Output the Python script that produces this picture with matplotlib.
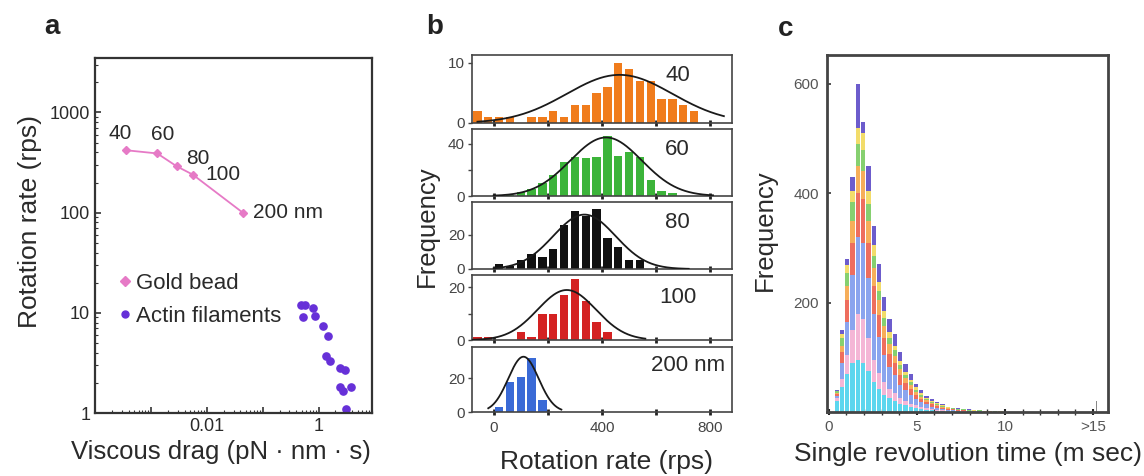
import numpy as np
import matplotlib
matplotlib.use("Agg")
import matplotlib.pyplot as plt
from matplotlib.ticker import LogLocator, NullFormatter, FixedLocator, FixedFormatter

plt.rcParams['font.family'] = ['Liberation Sans', 'DejaVu Sans']

# ---------------- Panel a data ----------------
gold_drag = [3.6e-4, 1.3e-3, 2.9e-3, 5.6e-3, 0.044]
gold_rate = [420, 390, 290, 240, 100]
gold_labels = ['40', '60', '80', '100', '200 nm']
actin_drag = [0.49, 0.56, 0.52, 0.79, 0.85, 1.19, 1.47, 1.37, 1.57, 2.37, 2.91, 2.37, 2.71, 3.83, 3.1]
actin_rate = [12.0, 12.0, 9.0, 11.2, 9.4, 7.4, 5.9, 3.7, 3.3, 2.8, 2.7, 1.8, 1.65, 1.8, 1.1]

# ---------------- Panel b data ----------------
b_labels = ['40', '60', '80', '100', '200 nm']
b_colors = ['#f07c1c', '#3cb43a', '#111111', '#d42222', '#3a6ad6']
b_centers = [
    [-60, -20, 20, 60, 140, 180, 220, 260, 300, 340, 380, 420, 460, 500, 540, 580, 620, 660, 700, 740],
    [60, 100, 140, 180, 220, 260, 300, 340, 380, 420, 460, 500, 540, 580, 620, 660],
    [20, 60, 100, 140, 180, 220, 260, 300, 340, 380, 420, 460, 500, 540],
    [-60, -20, 100, 140, 180, 220, 260, 300, 340, 380, 420],
    [20, 60, 100, 140, 180],
]
b_counts = [
    [2, 1, 1, 1, 1, 1, 2, 1, 3, 3, 5, 6, 10, 9, 7, 7, 4, 4, 3, 2],
    [1, 3, 5, 10, 16, 26, 30, 29, 30, 46, 31, 34, 30, 12, 4, 2],
    [3, 2, 5, 9, 7, 12, 26, 34, 31, 35, 18, 13, 5, 5],
    [1, 1, 3, 1, 10, 10, 17, 23, 15, 7, 3],
    [3, 18, 21, 32, 7],
]
b_ylims = [11.3, 51.5, 39.4, 24.7, 38.8]
b_yticks = [[0, 10], [0, 20, 40], [0, 20], [0, 10, 20], [0, 20]]
b_yticklabels = [['0', '10'], ['0', '', '40'], ['0', '20'], ['0', '', '20'], ['0', '20']]
# Gaussian fit parameters (peak height, centre, sigma, drawn range)
fit_peak = [8.0, 45.0, 32.0, 19.0, 33.0]
fit_center = [465, 415, 335, 270, 110]
fit_sigma = [195, 132, 115, 108, 56]
fit_xmin = [-60, 0, 0, -80, -20]
fit_xmax = [850, 810, 720, 560, 250]

# ---------------- Panel c data ----------------
c_bins = [0.45, 0.75, 1.05, 1.35, 1.65, 1.95, 2.25, 2.55, 2.85, 3.15, 3.45, 3.75, 4.05, 4.35, 4.65, 4.95,
          5.25, 5.55, 5.85, 6.15, 6.45, 6.75, 7.05, 7.35, 7.65, 7.95, 8.25, 8.55, 8.85, 9.15, 9.45, 9.75]
c_cyan = [20, 45, 70, 90, 95, 90, 75, 55, 42, 32, 25, 20, 15, 12, 9, 7, 5, 4, 3, 2, 2, 1, 1, 1, 0, 0, 0, 0, 0, 0, 0, 0]
c_pink = [5, 15, 35, 60, 85, 80, 60, 40, 30, 22, 17, 14, 10, 8, 6, 5, 4, 3, 2, 2, 1, 1, 1, 0, 1, 0, 0, 0, 0, 0, 0, 0]
c_lblue = [5, 30, 60, 100, 140, 140, 110, 85, 65, 50, 40, 33, 25, 20, 16, 12, 9, 7, 5, 4, 3, 2, 2, 1, 1, 1, 1, 1, 0, 0, 0, 0]
c_red = [3, 20, 40, 60, 80, 80, 65, 50, 40, 32, 25, 22, 17, 13, 11, 8, 6, 5, 4, 3, 2, 2, 1, 1, 1, 1, 0, 1, 0, 0, 0, 0]
c_orange = [2, 10, 25, 40, 50, 50, 40, 33, 27, 21, 17, 14, 11, 9, 7, 5, 4, 3, 3, 2, 2, 1, 1, 1, 1, 0, 1, 0, 1, 1, 0, 0]
c_green = [3, 15, 25, 35, 40, 40, 30, 22, 18, 15, 12, 10, 8, 6, 5, 4, 3, 2, 2, 2, 1, 1, 1, 1, 1, 1, 0, 1, 0, 0, 1, 0]
c_yellow = [1, 7, 13, 20, 30, 30, 25, 20, 16, 12, 10, 8, 7, 6, 5, 4, 3, 2, 1, 1, 1, 1, 0, 1, 0, 1, 1, 0, 1, 0, 0, 1]
c_purple = [1, 8, 12, 25, 80, 20, 45, 35, 32, 26, 24, 22, 17, 14, 11, 7, 6, 4, 3, 2, 2, 1, 1, 1, 1, 1, 1, 1, 0, 1, 0, 0]
c_series = [c_cyan, c_pink, c_lblue, c_red, c_orange, c_green, c_yellow, c_purple]
c_colors = ['#5cd6ee', '#f4b6d6', '#8aa4ee', '#ee6e5e', '#f6ae5a', '#86d070', '#f2dc6a', '#6c5ccc']
c_over_x = [15.2]
c_over_count = [20]
c_xticks = [0, 5, 10, 15]
c_xticklabels = ['0', '5', '10', '>15']

W, H = 1144, 476
fig = plt.figure(figsize=(W / 100, H / 100), dpi=100)
txt = '#2a2a2a'

def fr(l, t, r, b):
    return [l / W, (H - b) / H, (r - l) / W, (b - t) / H]

# ================= Panel a =================
ax = fig.add_axes(fr(95, 58, 372, 413))
ax.set_xscale('log')
ax.set_yscale('log')
ax.plot(gold_drag, gold_rate, '-', color='#e67ac6', lw=1.3, marker='D', ms=4,
        mfc='#e67ac6', mec='#e67ac6', label='Gold bead')
ax.plot(actin_drag, actin_rate, 'o', color='#6630d8', ms=5.2, mec='#6630d8', label='Actin filaments')
ax.set_xlim(1e-4, 9)
ax.set_ylim(1, 3500)
offsets = [(-4, 12), (4, 14), (15, 6), (22, 0), (7, 0)]
has = ['center', 'center', 'center', 'center', 'left']
for x, y, s, o, ha in zip(gold_drag, gold_rate, gold_labels, offsets, has):
    ax.annotate(s, (x, y), xytext=o, textcoords='offset points', ha=ha, va='center',
                fontsize=15, color=txt)
ax.xaxis.set_major_locator(FixedLocator([1e-4, 1e-3, 1e-2, 1e-1, 1]))
ax.xaxis.set_major_formatter(FixedFormatter(['', '', '0.01', '', '1']))
ax.xaxis.set_minor_locator(LogLocator(base=10, subs=np.arange(2, 10), numticks=20))
ax.xaxis.set_minor_formatter(NullFormatter())
ax.yaxis.set_major_locator(FixedLocator([1, 10, 100, 1000]))
ax.yaxis.set_major_formatter(FixedFormatter(['1', '10', '100', '1000']))
ax.yaxis.set_minor_locator(LogLocator(base=10, subs=np.arange(2, 10), numticks=20))
ax.yaxis.set_minor_formatter(NullFormatter())
ax.tick_params(which='both', direction='in', colors='#333333', labelsize=13, labelcolor=txt)
ax.tick_params(which='major', length=4, width=1.2)
ax.tick_params(which='minor', length=2.5, width=0.8)
for s in ax.spines.values():
    s.set_linewidth(1.6)
    s.set_color('#333333')
ax.set_xlabel('Viscous drag (pN · nm · s)', fontsize=18.5, color=txt, labelpad=4)
ax.xaxis.set_label_coords(0.455, -0.075)
ax.set_ylabel('Rotation rate (rps)', fontsize=19, color=txt, labelpad=4)
ax.yaxis.set_label_coords(-0.19, 0.54)
leg = ax.legend(loc='upper left', bbox_to_anchor=(0.06, 0.42), frameon=False, fontsize=16,
                handlelength=0.4, handletextpad=0.3, labelspacing=0.55, borderaxespad=0,
                labelcolor=txt)
for h in leg.legend_handles:
    h.set_linestyle('')
    h.set_markersize(5)
fig.text(52 / W, 1 - 27 / H, 'a', fontsize=20, fontweight='bold', ha='center', va='center', color='#222222')

# ================= Panel b =================
b_boxes = [(55, 123), (129, 196), (202, 269), (275, 340), (347, 412)]
b_axes = []
for i, (t, b) in enumerate(b_boxes):
    axb = fig.add_axes(fr(472, t, 732, b))
    b_axes.append(axb)
    axb.bar(b_centers[i], b_counts[i], width=31, color=b_colors[i], edgecolor='none', zorder=2)
    xs = np.linspace(fit_xmin[i], fit_xmax[i], 300)
    ys = fit_peak[i] * np.exp(-0.5 * ((xs - fit_center[i]) / fit_sigma[i]) ** 2)
    axb.plot(xs, ys, color='#1a1a1a', lw=1.3, zorder=3)
    axb.set_xlim(-80, 880)
    axb.set_ylim(0, b_ylims[i])
    axb.set_yticks(b_yticks[i])
    axb.set_yticklabels(b_yticklabels[i])
    axb.set_xticks([0, 200, 400, 600, 800])
    if i == 4:
        axb.set_xticklabels(['0', '', '400', '', '800'])
    else:
        axb.set_xticklabels([])
    axb.tick_params(axis='x', direction='inout', length=5, width=2, colors='#222222',
                    labelsize=11, labelcolor='#444444', pad=4)
    axb.tick_params(axis='y', direction='out', length=3, width=1, colors='#444444',
                    labelsize=11, labelcolor='#444444', pad=2)
    for s in axb.spines.values():
        s.set_linewidth(1.2)
        s.set_color('#444444')
    axb.text(0.79 if i < 4 else 0.83, [0.70, 0.69, 0.69, 0.65, 0.72][i], b_labels[i],
             transform=axb.transAxes, fontsize=16, ha='center', va='center', color=txt)
fig.text(427 / W, 1 - 226 / H, 'Frequency', rotation=90, fontsize=18.5, ha='center', va='center', color=txt)
fig.text(606 / W, 1 - 462 / H, 'Rotation rate (rps)', fontsize=19, ha='center', va='center', color=txt)
fig.text(435 / W, 1 - 27 / H, 'b', fontsize=20, fontweight='bold', ha='center', va='center', color='#222222')

# ================= Panel c =================
axc = fig.add_axes(fr(827, 55, 1108, 412))
bottom = np.zeros(len(c_bins))
for ser, col in zip(c_series, c_colors):
    axc.bar(c_bins, ser, width=0.24, bottom=bottom, color=col, edgecolor='none', zorder=2)
    bottom = bottom + np.array(ser)
axc.bar(c_over_x, c_over_count, width=0.08, color='#888888', edgecolor='none', zorder=2)
axc.set_xlim(-0.1, 15.85)
axc.set_ylim(0, 653)
axc.set_xticks(c_xticks)
axc.set_xticklabels(c_xticklabels)
axc.set_xticks(np.arange(0, 16, 1), minor=True)
axc.set_yticks([200, 400, 600])
axc.tick_params(axis='x', which='major', direction='inout', length=5, width=1.5, colors='#222222',
                labelsize=11, labelcolor='#555555', pad=3)
axc.tick_params(axis='x', which='minor', direction='inout', length=4, width=1, colors='#333333')
axc.tick_params(axis='y', direction='in', length=3, width=1.2, colors='#333333',
                labelsize=11, labelcolor='#555555', pad=6)
for s in axc.spines.values():
    s.set_linewidth(2.0)
    s.set_color('#444444')
axc.set_xlabel('Single revolution time (m sec)', fontsize=19, color=txt, labelpad=6)
fig.text(765 / W, 1 - 230 / H, 'Frequency', rotation=90, fontsize=18.5, ha='center', va='center', color=txt)
fig.text(786 / W, 1 - 29 / H, 'c', fontsize=20, fontweight='bold', ha='center', va='center', color='#222222')

fig.savefig('out.png', dpi=100)
